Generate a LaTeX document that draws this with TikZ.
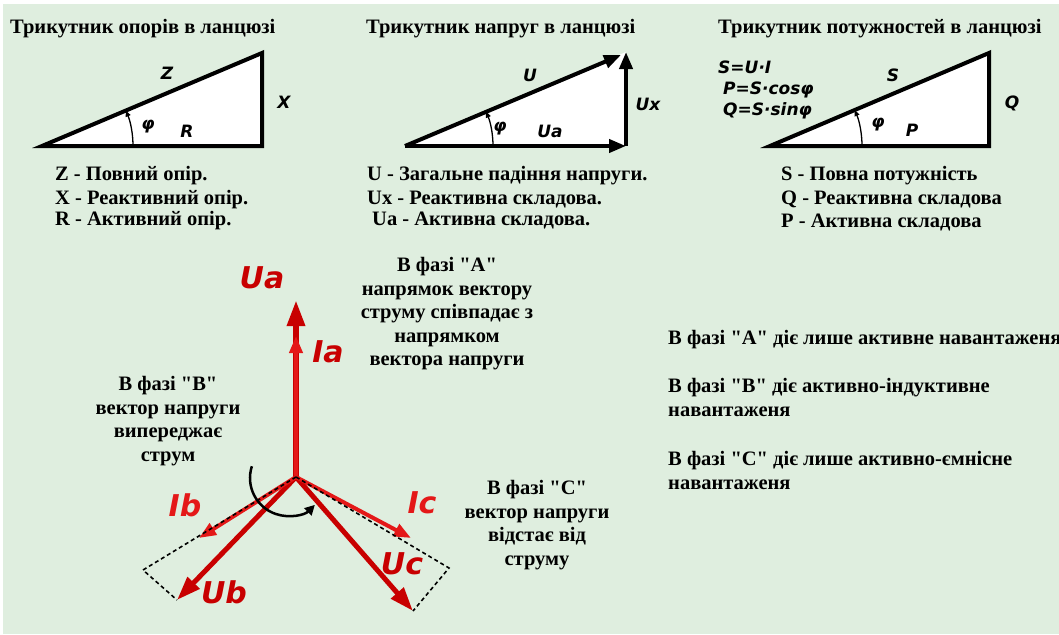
\documentclass[tikz,border=0pt]{standalone}
\usepackage{fontspec}
\setmainfont{Liberation Serif}[Ligatures=TeXOff]
\newfontfamily\lblfam{DejaVu Sans}
\usetikzlibrary{arrows.meta}
\definecolor{bggreen}{RGB}{223,238,223}
\definecolor{phred}{RGB}{200,0,0}
\definecolor{curred}{RGB}{228,24,24}

\begin{document}
\begin{tikzpicture}[x=1pt,y=-1pt,
  tri/.style={line width=4pt,fill=white,line join=miter},
  vec/.style={line width=4pt,-{Triangle[length=17pt,width=13pt]}},
  ang/.style={line width=1.3pt,-{Triangle[length=6pt,width=5pt]}},
  lbl/.style={font=\lblfam\bfseries\itshape\fontsize{17}{19}\selectfont,inner sep=0pt},
  big/.style={font=\lblfam\bfseries\itshape\fontsize{30}{32}\selectfont,inner sep=0pt},
  txt/.style={font=\bfseries\fontsize{20.5}{23}\selectfont,inner sep=0pt,anchor=base west},
  blk/.style={font=\bfseries\fontsize{20.5}{23.5}\selectfont,inner sep=0pt,align=center},
  para/.style={font=\bfseries\fontsize{20.5}{24}\selectfont,inner sep=0pt,align=left,anchor=west},
  uvec/.style={phred,line width=5pt,-{Triangle[length=24pt,width=16pt]}},
  ivec/.style={curred,line width=4pt,-{Triangle[length=17pt,width=13pt]}},
  proj/.style={line width=1.6pt,dash pattern=on 4pt off 3pt}
]
\useasboundingbox (0,0) rectangle (1059,634);
\fill[bggreen] (3,4) rectangle (1059,634);

% resistance triangle
\coordinate (ra) at (42,146);
\coordinate (rb) at (262,146);
\coordinate (rc) at (262,53);
\draw[tri] (ra)--(rb)--(rc)--cycle;
\draw[ang] (ra) ++(0:91pt) arc[start angle=0,end angle=22.9,radius=91pt];
\node[txt] (t1) at (10,34) {Трикутник опорів в ланцюзі};
\node[lbl] (zl) at (167,73) {Z};
\node[lbl] (xl) at (284,102) {X};
\node[lbl] (fl1) at (148,127) {φ};
\node[lbl] (rl) at (187,131) {R};
\node[txt] (z1) at (55,180) {Z - Повний опір.};
\node[txt] (z2) at (55,204) {X - Реактивний опір.};
\node[txt] (z3) at (55,225) {R - Активний опір.};

% voltage triangle
\coordinate (va) at (405,146);
\coordinate (vb) at (626,146);
\coordinate (vc) at (626,52);
\coordinate (vu) at (621,55);
\fill[white] (va)--(vb)--(vc)--cycle;
\draw[vec] (va)--(vu);
\draw[vec] (va)--(vb);
\draw[vec] (vb)--(vc);
\draw[ang] (va) ++(0:88pt) arc[start angle=0,end angle=23,radius=88pt];
\node[txt] (t2) at (366,34) {Трикутник напруг в ланцюзі};
\node[lbl] (ul) at (530,75) {U};
\node[lbl] (uxl) at (648,104) {Ux};
\node[lbl] (fl2) at (500,129) {φ};
\node[lbl] (ual) at (550,131) {Ua};
\node[txt] (u1) at (367,180) {U - Загальне падіння напруги.};
\node[txt] (u2) at (367,204) {Ux - Реактивна складова.};
\node[txt] (u3) at (372,225) {Ua - Активна складова.};

% power triangle
\coordinate (pa) at (770,146);
\coordinate (pb) at (989,146);
\coordinate (pc) at (989,53);
\draw[tri] (pa)--(pb)--(pc)--cycle;
\draw[ang] (pa) ++(0:92pt) arc[start angle=0,end angle=23,radius=92pt];
\node[txt] (t3) at (718,34) {Трикутник потужностей в ланцюзі};
\node[lbl,anchor=west] (f1) at (718,67) {S=U·I};
\node[lbl,anchor=west] (f2) at (723,90) {P=S·cosφ};
\node[lbl,anchor=west] (f3) at (723,111) {Q=S·sinφ};
\node[lbl] (sl) at (893,75) {S};
\node[lbl] (ql) at (1012,103) {Q};
\node[lbl] (fl3) at (878,125) {φ};
\node[lbl] (pl) at (912,130) {P};
\node[txt] (s1) at (781,180) {S - Повна потужність};
\node[txt] (s2) at (781,204) {Q - Реактивна складова};
\node[txt] (s3) at (781,227) {P - Активна складова};

% three-phase vectors
\coordinate (o) at (296,477);
\coordinate (uat) at (296,300);
\coordinate (iat) at (296,336);
\coordinate (ibt) at (199,538);
\coordinate (ubt) at (177,600);
\coordinate (ict) at (411,538);
\coordinate (uct) at (413,611);
\coordinate (bcor) at (143,570);
\coordinate (ccor) at (449,568);
\draw[uvec,line width=6pt,-{Triangle[length=26pt,width=17pt]}] (o)--(uat);
\draw[ivec] (o)--(iat);
\draw[uvec] (o)--(ubt);
\draw[uvec] (o)--(uct);
\draw[ivec] (o)--(ibt);
\draw[ivec] (o)--(ict);
\draw[proj] (o)--(bcor)--(ubt);
\draw[proj] (o)--(ccor)--(uct);
\draw[line width=2.5pt,-{Triangle[length=10pt,width=10pt]}]
  (288,478) ++(162:38pt) arc[start angle=162,end angle=315,radius=38pt];
\node[big,phred] (ual2) at (262,278) {Ua};
\node[big,phred] (ial) at (328,352) {Ia};
\node[big,curred] (ibl) at (185,505) {Ib};
\node[big,phred] (ubl) at (224,592) {Ub};
\node[big,curred] (icl) at (422,503) {Ic};
\node[big,phred] (ucl) at (402,564) {Uc};

\node[blk] (pha) at (447,314) {В фазі "А"\\напрямок вектору\\струму співпадає з\\напрямком\\вектора напруги};
\node[blk] (phb) at (168,421) {В фазі "В"\\вектор напруги\\випереджає\\струм};
\node[blk] (phc) at (537,525) {В фазі "С"\\вектор напруги\\відстає від\\струму};

\node[txt] (ra1) at (668,344) {В фазі "А" діє лише активне навантаженя};
\node[para] (rb1) at (668,397) {В фазі "В" діє активно-індуктивне\\навантаженя};
\node[para] (rc1) at (668,470) {В фазі "С" діє лише активно-ємнісне\\навантаженя};
\end{tikzpicture}
\end{document}
